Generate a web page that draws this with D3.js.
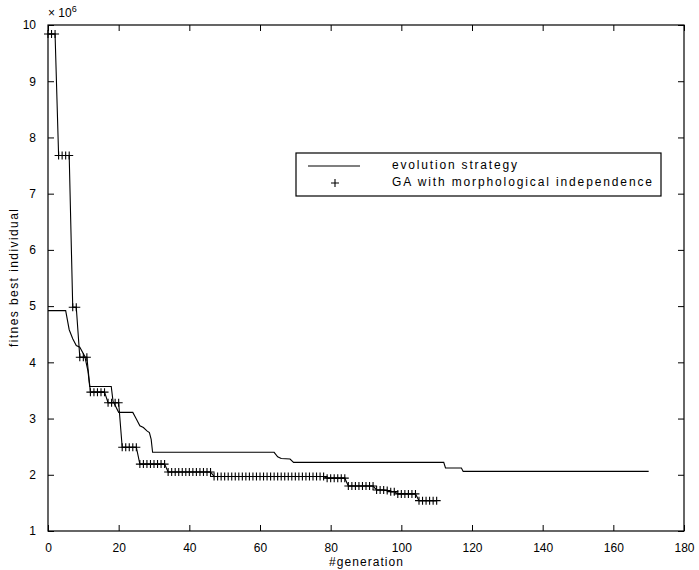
<!DOCTYPE html>
<html>
<head>
<meta charset="utf-8">
<script src="https://cdn.jsdelivr.net/npm/d3@7"></script>
<style>
  body { margin: 0; background: #fff; }
  text { font-family: "Liberation Sans", Arial, Helvetica, sans-serif; fill: #000; }
</style>
</head>
<body>
<svg class="chart"></svg>
<script>
// tick labels
const xTicks = [0, 20, 40, 60, 80, 100, 120, 140, 160, 180];
const yTicks = [1, 2, 3, 4, 5, 6, 7, 8, 9, 10];

// evolution strategy (x 10^6)
const esGen = [0, 5, 6, 7, 8, 9, 10.4, 11.3, 11.8, 17.9, 18.4, 20, 24, 25, 26, 27, 28, 28.7, 29.2, 29.6,
  64, 65, 66, 68.5, 69.5, 112, 112.5, 117, 117.5, 170];
const esFit = [4.92, 4.92, 4.58, 4.42, 4.30, 4.27, 4.11, 3.85, 3.57, 3.57, 3.31, 3.11, 3.11, 2.99, 2.87, 2.84, 2.78, 2.75, 2.63, 2.40,
  2.40, 2.32, 2.29, 2.28, 2.22, 2.22, 2.12, 2.12, 2.06, 2.06];

// GA with morphological independence, one value per generation 0..110 (x 10^6)
const gaFit = [
  9.84, 9.84, 9.84,
  7.68, 7.68, 7.68, 7.68,
  4.98, 4.98,
  4.09, 4.09, 4.09,
  3.47, 3.47, 3.47, 3.47, 3.47,
  3.28, 3.28, 3.28, 3.28,
  2.49, 2.49, 2.49, 2.49, 2.49,
  2.19, 2.19, 2.19, 2.19, 2.19, 2.19, 2.19, 2.19,
  2.05, 2.05, 2.05, 2.05, 2.05, 2.05, 2.05, 2.05, 2.05, 2.05, 2.05, 2.05, 2.05,
  1.97, 1.97, 1.97, 1.97, 1.97, 1.97, 1.97, 1.97, 1.97, 1.97, 1.97, 1.97, 1.97, 1.97, 1.97, 1.97,
  1.97, 1.97, 1.97, 1.97, 1.97, 1.97, 1.97, 1.97, 1.97, 1.97, 1.97, 1.97, 1.97, 1.97, 1.97, 1.97,
  1.94, 1.94, 1.94, 1.94, 1.94, 1.94,
  1.80, 1.80, 1.80, 1.80, 1.80, 1.80, 1.80, 1.80,
  1.73, 1.73, 1.73, 1.72, 1.70, 1.70,
  1.66, 1.66, 1.66, 1.66, 1.66, 1.66,
  1.54, 1.54, 1.54, 1.54, 1.54, 1.54
];

const legendLabels = ['evolution strategy', 'GA with morphological independence'];

const svgWidth = 699;
const svgHeight = 570;
const margin = { top: 25, right: 15, bottom: 39, left: 48 };
const chartWidth = svgWidth - margin.left - margin.right;
const chartHeight = svgHeight - margin.top - margin.bottom;

const svg = d3.select('.chart')
  .attr('width', svgWidth)
  .attr('height', svgHeight);

const chart = svg.append('g')
  .attr('transform', 'translate(' + margin.left + ',' + margin.top + ')');

const xScale = d3.scaleLinear().domain([0, 180]).range([0, chartWidth]);
const yScale = d3.scaleLinear().domain([1, 10]).range([chartHeight, 0]);

// axes, matlab style: ticks pointing inward, mirrored on top and right
function styleAxis(g) {
  g.select('.domain').remove();
  g.selectAll('line').attr('stroke', '#000').attr('stroke-width', 1);
  g.selectAll('text').attr('font-size', '12px').attr('fill', '#000');
}

chart.append('g')
  .attr('transform', 'translate(0,' + chartHeight + ')')
  .call(d3.axisBottom(xScale).tickValues(xTicks).tickSizeInner(-6).tickPadding(12).tickFormat(d3.format('d')))
  .call(styleAxis);

chart.append('g')
  .call(d3.axisTop(xScale).tickValues(xTicks).tickSizeInner(-6).tickFormat(''))
  .call(styleAxis);

chart.append('g')
  .call(d3.axisLeft(yScale).tickValues(yTicks).tickSizeInner(-6).tickPadding(12).tickFormat(d3.format('d')))
  .call(styleAxis);

chart.append('g')
  .attr('transform', 'translate(' + chartWidth + ',0)')
  .call(d3.axisRight(yScale).tickValues(yTicks).tickSizeInner(-6).tickFormat(''))
  .call(styleAxis);

chart.append('rect')
  .attr('width', chartWidth)
  .attr('height', chartHeight)
  .attr('fill', 'none')
  .attr('stroke', '#000')
  .attr('stroke-width', 1.2);

// exponent label
const expo = chart.append('text')
  .attr('x', 0)
  .attr('y', -8)
  .attr('font-size', '12px');
expo.append('tspan').text('\u00d7 10');
expo.append('tspan').attr('dy', -5).attr('font-size', '9px').text('6');

// evolution strategy line
const esData = esGen.map((g, i) => ({ gen: g, fit: esFit[i] }));
const line = d3.line()
  .x(d => xScale(d.gen))
  .y(d => yScale(d.fit));

chart.append('path')
  .datum(esData)
  .attr('fill', 'none')
  .attr('stroke', '#000')
  .attr('stroke-width', 1.1)
  .attr('d', line);

// GA line with + markers
const gaData = gaFit.map((f, i) => ({ gen: i, fit: f }));
chart.append('path')
  .datum(gaData)
  .attr('fill', 'none')
  .attr('stroke', '#000')
  .attr('stroke-width', 1.1)
  .attr('d', line);

const plusPath = 'M-4,0H4M0,-4V4';
chart.selectAll('.ga-mark')
  .data(gaData)
  .enter()
  .append('path')
  .attr('class', 'ga-mark')
  .attr('transform', d => 'translate(' + xScale(d.gen) + ',' + yScale(d.fit) + ')')
  .attr('d', plusPath)
  .attr('stroke', '#000')
  .attr('stroke-width', 1.1)
  .attr('fill', 'none');

// axis labels
svg.append('text')
  .attr('x', margin.left + chartWidth / 2)
  .attr('y', 566)
  .attr('text-anchor', 'middle')
  .attr('font-size', '12px')
  .attr('textLength', 74)
  .attr('lengthAdjust', 'spacing')
  .text('#generation');

svg.append('text')
  .attr('transform', 'rotate(-90)')
  .attr('x', -(margin.top + chartHeight / 2))
  .attr('y', 18)
  .attr('text-anchor', 'middle')
  .attr('font-size', '12px')
  .attr('textLength', 138)
  .attr('lengthAdjust', 'spacing')
  .text('fitnes best individual');

// legend
const legend = svg.append('g').attr('transform', 'translate(296,153)');
legend.append('rect')
  .attr('width', 365)
  .attr('height', 43)
  .attr('fill', '#fff')
  .attr('stroke', '#000')
  .attr('stroke-width', 1.2);
legend.append('line')
  .attr('x1', 12).attr('x2', 64)
  .attr('y1', 13).attr('y2', 13)
  .attr('stroke', '#000')
  .attr('stroke-width', 1.1);
legend.append('path')
  .attr('transform', 'translate(39,30)')
  .attr('d', plusPath)
  .attr('stroke', '#000')
  .attr('stroke-width', 1.1);
legend.selectAll('.legend-text')
  .data(legendLabels)
  .enter()
  .append('text')
  .attr('class', 'legend-text')
  .attr('x', 96)
  .attr('y', (d, i) => 16 + i * 17)
  .attr('font-size', '12px')
  .attr('textLength', (d, i) => i === 0 ? 125 : 260)
  .attr('lengthAdjust', 'spacing')
  .text(d => d);
</script>
</body>
</html>
